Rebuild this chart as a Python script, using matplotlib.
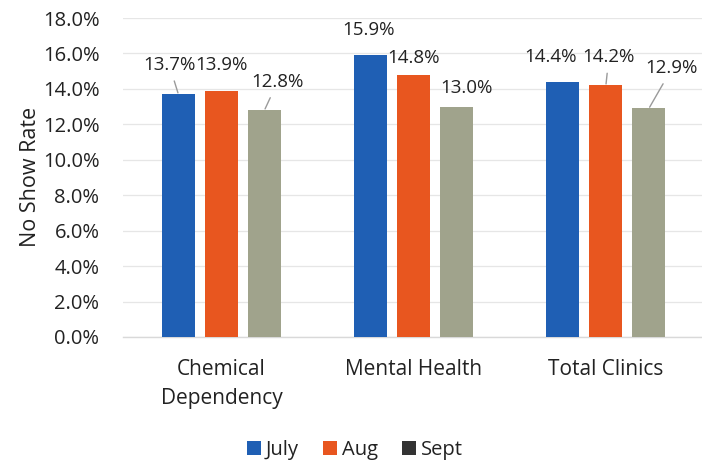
import matplotlib
matplotlib.use("Agg")
import matplotlib.pyplot as plt
from matplotlib.patches import Patch
from matplotlib.ticker import FuncFormatter
import numpy as np

plt.rcParams['font.family'] = ['Open Sans', 'DejaVu Sans']

categories = ["Chemical\nDependency", "Mental Health", "Total Clinics"]
series_names = ["July", "Aug", "Sept"]
july = [0.137, 0.159, 0.144]
aug = [0.139, 0.148, 0.142]
sept = [0.128, 0.130, 0.129]
yticks = [0.0, 0.02, 0.04, 0.06, 0.08, 0.10, 0.12, 0.14, 0.16, 0.18]

colors = ["#1F5FB4", "#E8561F", "#A0A38C"]
legend_colors = ["#1F5FB4", "#E8561F", "#333333"]

# label offsets in pixels from bar top (dx, dy) and whether a leader line is drawn
label_style = {
    (0, 0): ((-9, 29), True),
    (1, 0): ((0, 26), False),
    (2, 0): ((13, 28), True),
    (0, 1): ((-2, 25), False),
    (1, 1): ((0, 17), False),
    (2, 1): ((10, 19), False),
    (0, 2): ((-12, 25), False),
    (1, 2): ((3, 28), True),
    (2, 2): ((23, 40), True),
}

fig = plt.figure(figsize=(7.02, 4.66), dpi=100)
ax = fig.add_axes([123/702, 1-337/466, 579/702, 319/466])

x = np.arange(len(categories))
pitch = 0.224
width = 0.172
all_series = [july, aug, sept]
for si, vals in enumerate(all_series):
    xs = x + (si - 1) * pitch
    ax.bar(xs, vals, width=width, color=colors[si], zorder=3)
    for ci, v in enumerate(vals):
        (dx, dy), leader = label_style[(si, ci)]
        kw = {}
        if leader:
            kw['arrowprops'] = dict(arrowstyle='-', color='#9a9a9a', lw=1.0,
                                    shrinkA=3, shrinkB=1)
        ax.annotate(f"{v*100:.1f}%", xy=(xs[ci], v), xytext=(dx, dy),
                    textcoords='offset pixels', ha='center', va='center',
                    fontsize=13.5, color='#222222', zorder=5, **kw)

ax.set_xlim(-0.512, 2.5)
ax.set_ylim(0, 0.18)
ax.set_yticks(yticks)
ax.yaxis.set_major_formatter(FuncFormatter(lambda v, p: f"{v*100:.1f}%"))
ax.set_xticks(x)
ax.set_xticklabels(categories, fontsize=15, color='#222222', linespacing=1.5)
ax.tick_params(axis='x', length=0, pad=16)
ax.tick_params(axis='y', length=0, pad=17, labelsize=14.5, labelcolor='#222222')
ax.grid(axis='y', color='#e6e6e6', lw=0.9, zorder=0)
for s in ['top', 'right', 'left']:
    ax.spines[s].set_visible(False)
ax.spines['bottom'].set_color('#d9d9d9')
ax.spines['bottom'].set_linewidth(1.0)

fig.text(30/702, 1-177/466, "No Show Rate", rotation=90, ha='center', va='center',
         fontsize=15.5, color='#222222')

handles = [Patch(facecolor=c, edgecolor='none') for c in legend_colors]
fig.legend(handles, series_names, loc='center', bbox_to_anchor=(355/702, 1-450/466),
           ncol=3, frameon=False, fontsize=14.5, handlelength=0.7, handleheight=0.7,
           handletextpad=0.25, columnspacing=1.2, labelcolor='#222222')

fig.savefig("out.png", dpi=100)
